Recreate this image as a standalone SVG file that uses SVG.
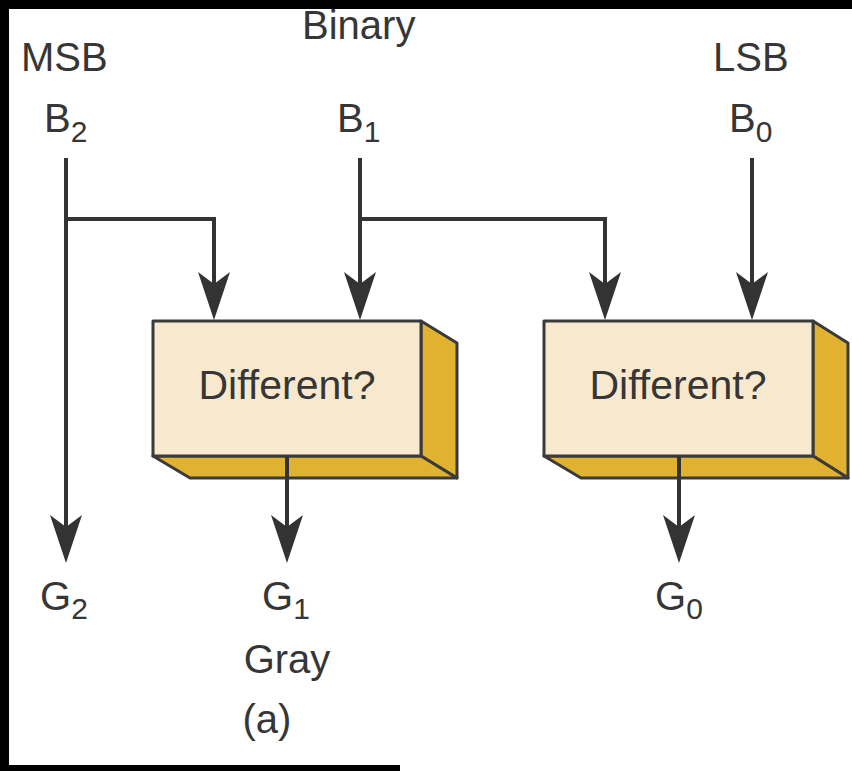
<svg xmlns="http://www.w3.org/2000/svg" width="852" height="771" viewBox="0 0 852 771">
<defs>
<style>
.t{font-family:"Liberation Sans",Arial,sans-serif;fill:#363636;font-size:40px}
.s{font-size:30px}
.front{fill:#F8E9CE;stroke:#3a3a3a;stroke-width:3;stroke-linejoin:round}
.side{fill:#E0B22F;stroke:#3a3a3a;stroke-width:3;stroke-linejoin:round}
.w{fill:none;stroke:#333;stroke-width:4}
</style>
<marker id="ah" markerUnits="userSpaceOnUse" viewBox="-50 -20 52 40" markerWidth="52" markerHeight="40" refX="-34" refY="0" orient="auto">
<path d="M0,0 L-48,-16 L-36,0 L-48,16 Z" fill="#333"/>
</marker>
</defs>
<rect x="0" y="0" width="852" height="771" fill="#fff"/>
<rect x="0" y="0" width="852" height="9" fill="#000"/>
<rect x="0" y="0" width="9" height="771" fill="#000"/>
<rect x="0" y="765" width="400" height="6" fill="#000"/>

<g id="labels-top">
<text class="t" x="21" y="71">MSB</text>
<text class="t" x="302" y="39">Binary</text>
<text class="t" x="713" y="71">LSB</text>
</g>
<g id="b2"><text class="t" x="44" y="132">B<tspan class="s" dy="10">2</tspan></text></g>
<g id="b1"><text class="t" x="337" y="132">B<tspan class="s" dy="10">1</tspan></text></g>
<g id="b0"><text class="t" x="729" y="132">B<tspan class="s" dy="10">0</tspan></text></g>

<g id="box1">
<polygon class="side" points="421,321 457,343 457,478 421,456"/>
<polygon class="side" points="153,456 421,456 457,478 190,478"/>
<rect class="front" x="153" y="321" width="268" height="135"/>
<text class="t" x="287" y="399" text-anchor="middle" style="font-size:41px">Different?</text>
</g>
<g id="box2">
<polygon class="side" points="813,321 848,343 848,478 813,456"/>
<polygon class="side" points="544,456 813,456 848,478 581,478"/>
<rect class="front" x="544" y="321" width="269" height="135"/>
<text class="t" x="678" y="399" text-anchor="middle" style="font-size:41px">Different?</text>
</g>

<g id="connectors">
<path class="w" d="M66,158 V529" marker-end="url(#ah)"/>
<path class="w" d="M66,219 H214 V286" marker-end="url(#ah)"/>
<path class="w" d="M360,158 V286" marker-end="url(#ah)"/>
<path class="w" d="M360,219 H605 V286" marker-end="url(#ah)"/>
<path class="w" d="M752,158 V286" marker-end="url(#ah)"/>
<path class="w" d="M287,456 V529" marker-end="url(#ah)"/>
<path class="w" d="M679,456 V529" marker-end="url(#ah)"/>
</g>

<g id="g2"><text class="t" x="40" y="610">G<tspan class="s" dy="9">2</tspan></text></g>
<g id="g1"><text class="t" x="262" y="610">G<tspan class="s" dy="9">1</tspan></text></g>
<g id="g0"><text class="t" x="655" y="610">G<tspan class="s" dy="9">0</tspan></text></g>
<g id="labels-bottom">
<text class="t" x="287" y="673" text-anchor="middle">Gray</text>
<text class="t" x="267" y="733" text-anchor="middle">(a)</text>
</g>
</svg>
